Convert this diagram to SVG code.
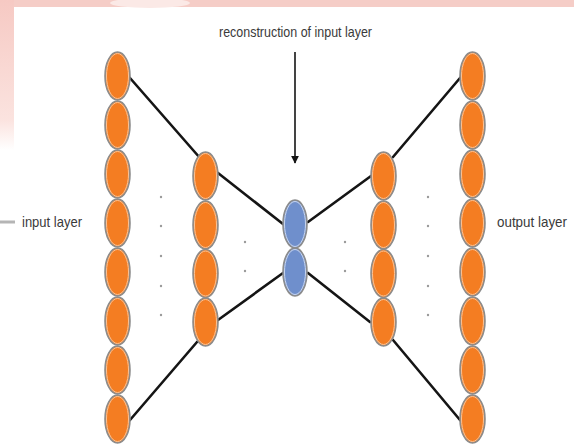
<svg xmlns="http://www.w3.org/2000/svg" width="574" height="444" viewBox="0 0 574 444">
<defs>
<style>
.o{fill:#f47d22;stroke:#8c8c8c;stroke-width:1.6}
.oi{fill:none;stroke:#f8c49a;stroke-width:1}
.b{fill:#6f8fcc;stroke:#8c8c8c;stroke-width:1.6}
.bi{fill:none;stroke:#c9d6ef;stroke-width:1}
.c{stroke:#151515;stroke-width:2.6;stroke-linecap:round;fill:none}
.d{fill:#9a9a9a}
.t{font-family:"Liberation Sans",Arial,sans-serif;font-size:15px;fill:#3a3a3a}
</style>
<linearGradient id="lg" x1="0" y1="0" x2="0" y2="1">
<stop offset="0" stop-color="#f6c9c3"/>
<stop offset="0.8" stop-color="#fbe3df"/>
<stop offset="1" stop-color="#ffffff"/>
</linearGradient>
<marker id="ah" viewBox="0 0 10 10" refX="9" refY="5" markerWidth="5" markerHeight="6" orient="auto" markerUnits="strokeWidth">
<path d="M0,0 L10,5 L0,10 z" fill="#151515"/>
</marker>
</defs>
<rect width="574" height="444" fill="#ffffff"/>
<g id="background">
<rect x="0" y="0" width="574" height="7" fill="#f5cdc7"/>
<ellipse cx="150" cy="3" rx="40" ry="5" fill="#fbe9e6"/>
<rect x="0" y="0" width="14" height="150" fill="url(#lg)"/>
<line x1="0" y1="222" x2="15" y2="222" stroke="#b5b5b5" stroke-width="3"/>
</g>
<g id="connectors">
<line class="c" x1="130" y1="78" x2="200" y2="158"/>
<line class="c" x1="218" y1="173" x2="283" y2="224"/>
<line class="c" x1="130" y1="420" x2="197" y2="342"/>
<line class="c" x1="218" y1="320" x2="283" y2="273"/>
<line class="c" x1="308" y1="222" x2="371" y2="176"/>
<line class="c" x1="393" y1="157" x2="460" y2="78"/>
<line class="c" x1="308" y1="273" x2="370" y2="322"/>
<line class="c" x1="393" y1="340" x2="460" y2="420"/>
<line x1="295" y1="52" x2="295" y2="163" stroke="#151515" stroke-width="1.6" marker-end="url(#ah)"/>
</g>
<g id="dots">
<circle class="d" cx="161" cy="197" r="1.2"/><circle class="d" cx="161" cy="226" r="1.2"/><circle class="d" cx="161" cy="256" r="1.2"/><circle class="d" cx="161" cy="286" r="1.2"/><circle class="d" cx="161" cy="315" r="1.2"/>
<circle class="d" cx="428" cy="197" r="1.2"/><circle class="d" cx="428" cy="226" r="1.2"/><circle class="d" cx="428" cy="256" r="1.2"/><circle class="d" cx="428" cy="286" r="1.2"/><circle class="d" cx="428" cy="315" r="1.2"/>
<circle class="d" cx="245" cy="242" r="1.2"/><circle class="d" cx="245" cy="271" r="1.2"/>
<circle class="d" cx="345" cy="242" r="1.2"/><circle class="d" cx="345" cy="271" r="1.2"/>
</g>
<g id="in1"><ellipse class="o" cx="117.5" cy="76" rx="12.5" ry="24"/><ellipse class="oi" cx="117.5" cy="76" rx="11" ry="22.5"/></g>
<g id="in2"><ellipse class="o" cx="117.5" cy="125" rx="12.5" ry="24"/><ellipse class="oi" cx="117.5" cy="125" rx="11" ry="22.5"/></g>
<g id="in3"><ellipse class="o" cx="117.5" cy="174" rx="12.5" ry="24"/><ellipse class="oi" cx="117.5" cy="174" rx="11" ry="22.5"/></g>
<g id="in4"><ellipse class="o" cx="117.5" cy="223" rx="12.5" ry="24"/><ellipse class="oi" cx="117.5" cy="223" rx="11" ry="22.5"/></g>
<g id="in5"><ellipse class="o" cx="117.5" cy="272" rx="12.5" ry="24"/><ellipse class="oi" cx="117.5" cy="272" rx="11" ry="22.5"/></g>
<g id="in6"><ellipse class="o" cx="117.5" cy="321" rx="12.5" ry="24"/><ellipse class="oi" cx="117.5" cy="321" rx="11" ry="22.5"/></g>
<g id="in7"><ellipse class="o" cx="117.5" cy="370" rx="12.5" ry="24"/><ellipse class="oi" cx="117.5" cy="370" rx="11" ry="22.5"/></g>
<g id="in8"><ellipse class="o" cx="117.5" cy="419" rx="12.5" ry="24"/><ellipse class="oi" cx="117.5" cy="419" rx="11" ry="22.5"/></g>
<g id="h1"><ellipse class="o" cx="205.5" cy="176" rx="12.5" ry="24"/><ellipse class="oi" cx="205.5" cy="176" rx="11" ry="22.5"/></g>
<g id="h2"><ellipse class="o" cx="205.5" cy="225" rx="12.5" ry="24"/><ellipse class="oi" cx="205.5" cy="225" rx="11" ry="22.5"/></g>
<g id="h3"><ellipse class="o" cx="205.5" cy="273.5" rx="12.5" ry="24"/><ellipse class="oi" cx="205.5" cy="273.5" rx="11" ry="22.5"/></g>
<g id="h4"><ellipse class="o" cx="205.5" cy="322" rx="12.5" ry="24"/><ellipse class="oi" cx="205.5" cy="322" rx="11" ry="22.5"/></g>
<g id="z1"><ellipse class="b" cx="295" cy="224" rx="12" ry="24"/><ellipse class="bi" cx="295" cy="224" rx="10.5" ry="22.5"/></g>
<g id="z2"><ellipse class="b" cx="295" cy="272" rx="12" ry="24"/><ellipse class="bi" cx="295" cy="272" rx="10.5" ry="22.5"/></g>
<g id="g1"><ellipse class="o" cx="383.5" cy="176" rx="12.5" ry="24"/><ellipse class="oi" cx="383.5" cy="176" rx="11" ry="22.5"/></g>
<g id="g2"><ellipse class="o" cx="383.5" cy="225" rx="12.5" ry="24"/><ellipse class="oi" cx="383.5" cy="225" rx="11" ry="22.5"/></g>
<g id="g3"><ellipse class="o" cx="383.5" cy="273.5" rx="12.5" ry="24"/><ellipse class="oi" cx="383.5" cy="273.5" rx="11" ry="22.5"/></g>
<g id="g4"><ellipse class="o" cx="383.5" cy="322" rx="12.5" ry="24"/><ellipse class="oi" cx="383.5" cy="322" rx="11" ry="22.5"/></g>
<g id="out1"><ellipse class="o" cx="472.5" cy="76" rx="12.5" ry="24"/><ellipse class="oi" cx="472.5" cy="76" rx="11" ry="22.5"/></g>
<g id="out2"><ellipse class="o" cx="472.5" cy="125" rx="12.5" ry="24"/><ellipse class="oi" cx="472.5" cy="125" rx="11" ry="22.5"/></g>
<g id="out3"><ellipse class="o" cx="472.5" cy="174" rx="12.5" ry="24"/><ellipse class="oi" cx="472.5" cy="174" rx="11" ry="22.5"/></g>
<g id="out4"><ellipse class="o" cx="472.5" cy="223" rx="12.5" ry="24"/><ellipse class="oi" cx="472.5" cy="223" rx="11" ry="22.5"/></g>
<g id="out5"><ellipse class="o" cx="472.5" cy="272" rx="12.5" ry="24"/><ellipse class="oi" cx="472.5" cy="272" rx="11" ry="22.5"/></g>
<g id="out6"><ellipse class="o" cx="472.5" cy="321" rx="12.5" ry="24"/><ellipse class="oi" cx="472.5" cy="321" rx="11" ry="22.5"/></g>
<g id="out7"><ellipse class="o" cx="472.5" cy="370" rx="12.5" ry="24"/><ellipse class="oi" cx="472.5" cy="370" rx="11" ry="22.5"/></g>
<g id="out8"><ellipse class="o" cx="472.5" cy="419" rx="12.5" ry="24"/><ellipse class="oi" cx="472.5" cy="419" rx="11" ry="22.5"/></g>
<g id="labels">
<text class="t" x="219" y="37" textLength="153" lengthAdjust="spacingAndGlyphs">reconstruction of input layer</text>
<text class="t" x="22" y="227" textLength="60" lengthAdjust="spacingAndGlyphs">input layer</text>
<text class="t" x="497" y="227" textLength="70" lengthAdjust="spacingAndGlyphs">output layer</text>
</g>
</svg>
